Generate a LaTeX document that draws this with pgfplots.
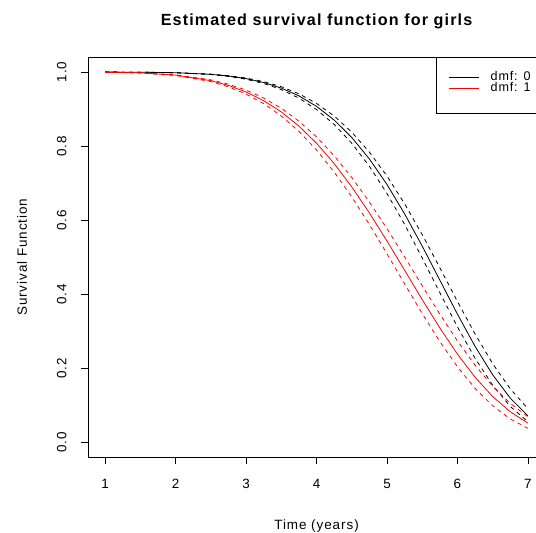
\documentclass[border=0pt]{standalone}
\usepackage{fontspec}
\setmainfont{Liberation Sans}[LetterSpace=7]
\usepackage{pgfplots}
\usepackage{pgfplotstable}
\pgfplotsset{compat=1.18}

% t, black (dmf 0): estimate / upper / lower, red (dmf 1): estimate / upper / lower
\pgfplotstableread{
t     bs     bu     bl     rs     ru     rl
1.00  1.0000 1.0000 1.0000 0.9997 0.9997 0.9997
1.50  0.9997 0.9997 0.9997 0.9979 0.9981 0.9976
2.00  0.9984 0.9985 0.9982 0.9918 0.9926 0.9909
2.50  0.9940 0.9945 0.9934 0.9768 0.9791 0.9744
2.75  0.9894 0.9904 0.9884 0.9640 0.9674 0.9602
3.00  0.9824 0.9840 0.9807 0.9463 0.9514 0.9407
3.25  0.9719 0.9744 0.9692 0.9227 0.9300 0.9148
3.50  0.9568 0.9606 0.9527 0.8923 0.9022 0.8814
3.75  0.9358 0.9414 0.9298 0.8542 0.8674 0.8398
4.00  0.9075 0.9154 0.8989 0.8078 0.8248 0.7895
4.25  0.8705 0.8814 0.8587 0.7529 0.7740 0.7302
4.50  0.8234 0.8378 0.8078 0.6899 0.7152 0.6628
4.75  0.7653 0.7839 0.7455 0.6196 0.6491 0.5885
5.00  0.6964 0.7193 0.6720 0.5438 0.5770 0.5093
5.25  0.6171 0.6444 0.5886 0.4648 0.5007 0.4280
5.50  0.5299 0.5609 0.4978 0.3854 0.4229 0.3478
5.75  0.4380 0.4716 0.4039 0.3089 0.3462 0.2721
6.00  0.3461 0.3805 0.3118 0.2381 0.2737 0.2040
6.25  0.2592 0.2925 0.2270 0.1757 0.2081 0.1457
6.50  0.1824 0.2124 0.1543 0.1236 0.1515 0.0987
6.75  0.1193 0.1443 0.0968 0.0824 0.1050 0.0630
7.00  0.0717 0.0908 0.0554 0.0517 0.0690 0.0376
}\surv

\begin{document}
\begin{tikzpicture}
\begin{axis}[
    scale only axis,
    width=456.5bp, height=399.8bp,
    xmin=0.76, xmax=7.24, ymin=-0.04, ymax=1.04,
    xtick={1,2,3,4,5,6,7},
    ytick={0,0.2,0.4,0.6,0.8,1},
    axis line style={line width=0.8bp},
    tick style={black, line width=0.8bp},
    tick align=outside, major tick length=7bp,
    xtick pos=bottom, ytick pos=left,
    /pgf/number format/assume math mode=true,
    tick label style={font=\fontsize{13.5}{16}\selectfont},
    xticklabel style={inner sep=0pt, anchor=north},
    xticklabel shift=15.2bp,
    yticklabel style={rotate=90, inner sep=0pt, anchor=south,
        /pgf/number format/.cd, fixed, fixed zerofill, precision=1},
    yticklabel shift=14.6bp,
    title={Estimated survival function for girls},
    title style={at={(rel axis cs:0.5,1.064)}, anchor=base,
        font=\bfseries\fontsize{16.2}{19}\selectfont},
    xlabel={Time (years)},
    xlabel style={at={(rel axis cs:0.5,-0.1801)}, anchor=base,
        font=\fontsize{13.5}{16}\selectfont},
    ylabel={Survival Function},
    ylabel style={at={(rel axis cs:-0.1345,0.5)}, anchor=base,
        font=\fontsize{13.5}{16}\selectfont},
    legend image code/.code={\draw[#1] (0bp,0bp) -- (30bp,0bp);},
    legend cell align=left,
    legend style={draw=none, fill=none,
        at={(rel axis cs:0.7879,0.965)}, anchor=north west,
        inner sep=0pt, row sep=0pt,
        nodes={inner sep=0pt, text height=8.8bp, text depth=2.7bp,
            font=\fontsize{12.6}{14}\selectfont},
        /tikz/every odd column/.append style={column sep=11.7bp}},
]
\addplot[black, line width=0.8bp] table[x=t, y=bs] {\surv};
\addlegendentry{dmf: 0}
\addplot[black, line width=0.8bp, dash pattern=on 4bp off 4bp, forget plot] table[x=t, y=bu] {\surv};
\addplot[black, line width=0.8bp, dash pattern=on 4bp off 4bp, forget plot] table[x=t, y=bl] {\surv};
\addplot[red, line width=0.8bp] table[x=t, y=rs] {\surv};
\addlegendentry{dmf: 1}
\addplot[red, line width=0.8bp, dash pattern=on 4bp off 4bp, forget plot] table[x=t, y=ru] {\surv};
\addplot[red, line width=0.8bp, dash pattern=on 4bp off 4bp, forget plot] table[x=t, y=rl] {\surv};
\draw[black, line width=0.8bp] (rel axis cs:0.7617,1) rectangle (rel axis cs:1.05,0.860);
\end{axis}
\pgfresetboundingbox
\useasboundingbox (-88.3bp,-75.9bp) rectangle (447.7bp,457.1bp);
\end{tikzpicture}
\end{document}
